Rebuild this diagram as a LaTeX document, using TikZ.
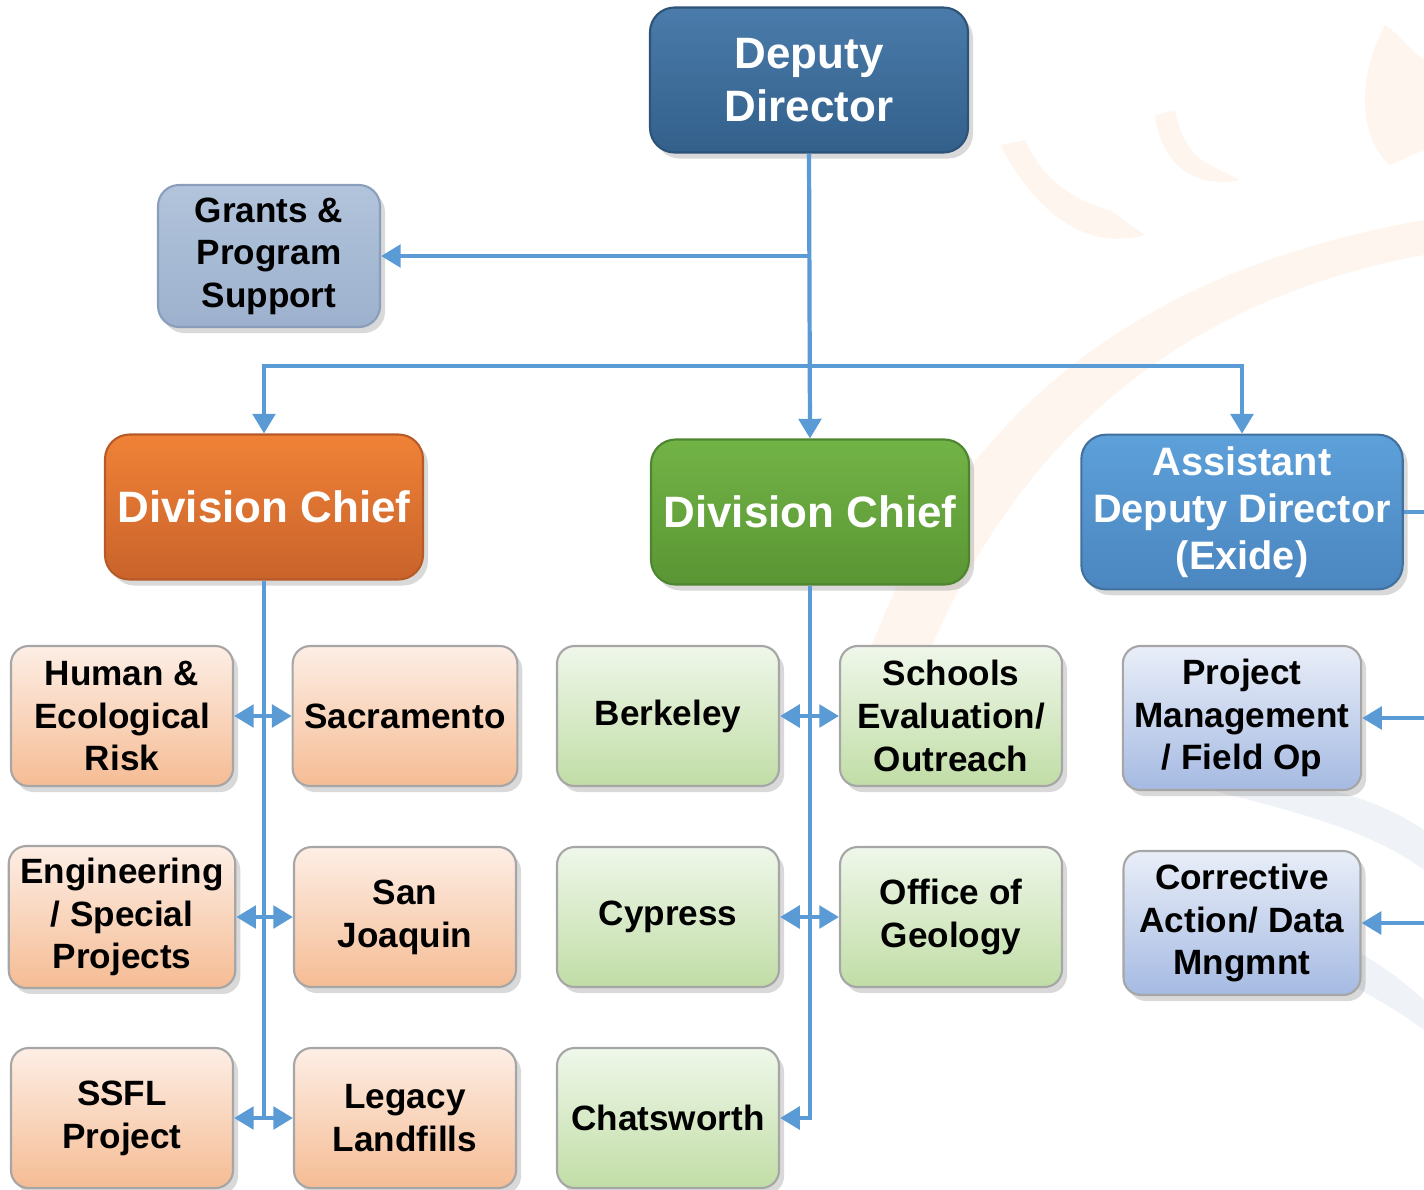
\documentclass[tikz,border=0pt]{standalone}
\usepackage{fontspec}
\setmainfont{Liberation Sans}
\usetikzlibrary{arrows.meta,shadows}

\definecolor{linkblue}{HTML}{5B9BD5}
\definecolor{ddtop}{HTML}{4A7BAA}
\definecolor{ddbot}{HTML}{33608B}
\definecolor{ddline}{HTML}{2E5378}
\definecolor{grtop}{HTML}{B2C4DB}
\definecolor{grbot}{HTML}{9DB1CE}
\definecolor{grline}{HTML}{8A9EBB}
\definecolor{ortop}{HTML}{F08237}
\definecolor{orbot}{HTML}{C9632B}
\definecolor{orline}{HTML}{B65A28}
\definecolor{gntop}{HTML}{72B346}
\definecolor{gnbot}{HTML}{5A9634}
\definecolor{gnline}{HTML}{4E8530}
\definecolor{adtop}{HTML}{5DA0DA}
\definecolor{adbot}{HTML}{4B86BF}
\definecolor{adline}{HTML}{41719C}
\definecolor{lotop}{HTML}{FDEEE5}
\definecolor{lobot}{HTML}{F5BC94}
\definecolor{lgtop}{HTML}{EFF7EA}
\definecolor{lgbot}{HTML}{C1DDA6}
\definecolor{lbtop}{HTML}{E9EEF8}
\definecolor{lbbot}{HTML}{A5BAE2}
\definecolor{boxline}{HTML}{A6A6A6}
\definecolor{wmorange}{HTML}{FEF6EE}
\definecolor{wmblue}{HTML}{EFF3F8}

\tikzset{
    box/.style={draw, align=center, line width=0.6pt,
        drop shadow={shadow xshift=0.05cm, shadow yshift=-0.06cm, opacity=0.3}},
    bigbox/.style={box, rounded corners=7pt, minimum width=3.18cm, minimum height=1.45cm,
        text=white, font=\fontsize{12.5}{14.9}\selectfont\bfseries},
    smallbox/.style={box, rounded corners=5pt, minimum width=2.22cm, minimum height=1.40cm,
        draw=boxline, font=\fontsize{10}{12.2}\selectfont\bfseries},
    orangebox/.style={smallbox, top color=lotop, bottom color=lobot},
    greenbox/.style={smallbox, top color=lgtop, bottom color=lgbot},
    bluebox/.style={smallbox, top color=lbtop, bottom color=lbbot,
        minimum width=2.37cm, minimum height=1.44cm},
    wire/.style={draw=linkblue, line width=1.2pt},
    link/.style={wire, -{Triangle[length=5.6pt,width=6.4pt]}},
    twoway/.style={wire, {Triangle[length=5.6pt,width=6.4pt]}-{Triangle[length=5.6pt,width=6.4pt]}}
}

\begin{document}
\begin{tikzpicture}
    %%Background
    \useasboundingbox (0,0) rectangle (14.24,-11.89);
    %% faint logo behind the right part
    \fill[wmorange] (8.7,-6.5) .. controls (9.6,-4.1) and (11.4,-2.7) .. (14.24,-2.2)
        -- (14.24,-2.55) .. controls (11.8,-3.0) and (10.2,-4.4) .. (9.3,-6.5) -- cycle;
    \fill[wmorange] (10.0,-1.45) .. controls (10.4,-2.2) and (10.9,-2.5) .. (11.45,-2.35)
        -- (11.1,-2.1) .. controls (10.7,-2.0) and (10.4,-1.75) .. (10.25,-1.4) -- cycle;
    \fill[wmorange] (11.55,-1.15) .. controls (11.6,-1.6) and (11.9,-1.9) .. (12.4,-1.8)
        -- (12.1,-1.65) .. controls (11.9,-1.55) and (11.8,-1.35) .. (11.75,-1.1) -- cycle;
    \fill[wmorange] (13.85,-0.25) .. controls (13.55,-0.8) and (13.6,-1.4) .. (13.9,-1.65)
        -- (14.24,-1.5) -- (14.24,-0.6) .. controls (14.1,-0.5) and (14.0,-0.35) .. (13.85,-0.25) -- cycle;
    \fill[wmblue] (12.1,-7.9) .. controls (13.0,-7.7) and (13.8,-8.0) .. (14.24,-8.3)
        -- (14.24,-8.7) .. controls (13.7,-8.3) and (12.9,-8.1) .. (12.1,-7.9) -- cycle;
    \fill[wmblue] (12.4,-9.3) .. controls (13.2,-9.2) and (13.8,-9.6) .. (14.24,-10.0)
        -- (14.24,-10.3) .. controls (13.7,-9.9) and (13.0,-9.6) .. (12.4,-9.3) -- cycle;
    %%
    %% top level
    \node[bigbox, top color=ddtop, bottom color=ddbot, draw=ddline] (dd) at (8.09,-0.80) {Deputy\\Director};
    \node[box, rounded corners=6pt, minimum width=2.22cm, minimum height=1.42cm,
        top color=grtop, bottom color=grbot, draw=grline,
        font=\fontsize{10}{12.1}\selectfont\bfseries] (grants) at (2.69,-2.56) {Grants \&\\Program\\Support};

    %% second level
    \node[bigbox, top color=ortop, bottom color=orbot, draw=orline] (dcW) at (2.64,-5.07) {Division Chief};
    \node[bigbox, top color=gntop, bottom color=gnbot, draw=gnline] (dcM) at (8.10,-5.12) {Division Chief};
    \node[bigbox, top color=adtop, bottom color=adbot, draw=adline,
        font=\fontsize{11.3}{13.4}\selectfont\bfseries] (add) at (12.42,-5.12) {Assistant\\Deputy Director\\(Exide)};

    %% units
    \node[orangebox] (hum)  at (1.22,-7.16) {Human \&\\Ecological\\Risk};
    \node[orangebox] (sac)  at (4.05,-7.16) {Sacramento};
    \node[orangebox] (eng)  at (1.22,-9.17) {Engineering\\/ Special\\Projects};
    \node[orangebox] (sanj) at (4.05,-9.17) {San\\Joaquin};
    \node[orangebox] (ssfl) at (1.22,-11.18) {SSFL\\Project};
    \node[orangebox] (leg)  at (4.05,-11.18) {Legacy\\Landfills};

    \node[greenbox] (berk)   at (6.68,-7.16) {Berkeley};
    \node[greenbox] (school) at (9.51,-7.16) {Schools\\Evaluation/\\Outreach};
    \node[greenbox] (cyp)    at (6.68,-9.17) {Cypress};
    \node[greenbox] (geo)    at (9.51,-9.17) {Office of\\Geology};
    \node[greenbox] (chat)   at (6.68,-11.18) {Chatsworth};

    \node[bluebox] (pm) at (12.42,-7.18) {Project\\Management\\/ Field Op};
    \node[bluebox] (ca) at (12.42,-9.23) {Corrective\\Action/ Data\\Mngmnt};

    %% connectors
    \coordinate (bus) at (8.09,-3.66);
    \coordinate (rim) at (14.24,-5.11);

    \draw[link] (dd.south) -- (dcM.north);
    \draw[link] (dd.south |- grants.east) -- (grants.east);
    \draw[link] (bus) -| (dcW.north);
    \draw[link] (bus) -| (add.north);

    \draw[wire] (dcW.south) -- (dcW.south |- ssfl.east);
    \draw[twoway] (hum.east) -- (sac.west);
    \draw[twoway] (eng.east) -- (sanj.west);
    \draw[twoway] (ssfl.east) -- (leg.west);

    \draw[link] (dcM.south) |- (chat.east);
    \draw[twoway] (berk.east) -- (school.west);
    \draw[twoway] (cyp.east) -- (geo.west);

    \draw[wire] (add.east) -- (add.east -| rim);
    \draw[link] (pm.east -| rim) -- (pm.east);
    \draw[link] (ca.east -| rim) -- (ca.east);
\end{tikzpicture}
\end{document}
